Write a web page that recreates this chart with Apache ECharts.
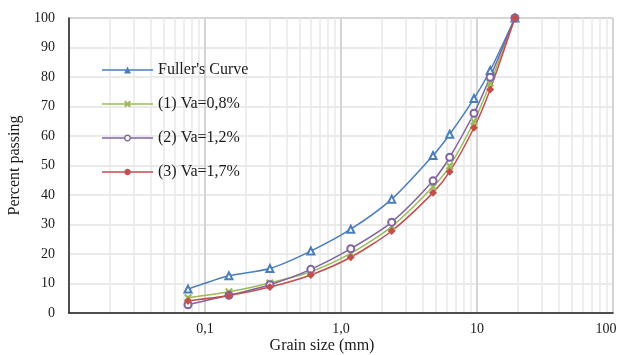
<!DOCTYPE html>
<html>
<head>
<meta charset="utf-8">
<script src="https://cdn.jsdelivr.net/npm/echarts@6/dist/echarts.min.js"></script>
<style>html,body{margin:0;padding:0;background:#fff;}#c{width:619px;height:355px;}</style>
</head>
<body>
<div id="c"></div>
<script>
const sizes = [0.075, 0.15, 0.3, 0.6, 1.18, 2.36, 4.75, 6.3, 9.5, 12.5, 19];
const fuller = [8.1, 12.6, 15.1, 21.0, 28.4, 38.6, 53.4, 60.6, 72.7, 82.2, 100];
const va08 = [5.2, 7.2, 10.2, 14.0, 20.2, 29.3, 42.8, 49.8, 64.9, 77.9, 100];
const va12 = [2.8, 6.0, 9.6, 14.8, 21.8, 30.8, 44.8, 52.8, 67.7, 79.9, 100];
const va17 = [4.1, 5.9, 8.8, 12.9, 18.9, 27.8, 40.8, 47.9, 62.8, 75.8, 100];
const seriesNames = ["Fuller's Curve", "(1) Va=0,8%", "(2) Va=1,2%", "(3) Va=1,7%"];
const xTickLabels = {"0.01": "", "0.1": "0,1", "1": "1,0", "10": "10", "100": "{m|100}"};
const minorX = [];
[0.01, 0.1, 1, 10].forEach(d => { for (let k = 2; k <= 9; k++) minorX.push(+(d * k).toPrecision(3)); });

const font = "'Liberation Serif', 'Times New Roman', serif";
const pair = arr => sizes.map((s, i) => [s, arr[i]]);
const xPath = 'path://M2,0L5,3L8,0L10,2L7,5L10,8L8,10L5,7L2,10L0,8L3,5L0,2Z';

// legend icons (51 x 7 box): line + marker
const lineFull = 'M0,2.8L51,2.8L51,4.2L0,4.2Z';
const lineSplit = 'M0,2.8L22.6,2.8L22.6,4.2L0,4.2Z M28.4,2.8L51,2.8L51,4.2L28.4,4.2Z';
function ring(cx, cy, r, ccw) {
  const pts = [];
  for (let i = 0; i < 16; i++) { const a = (ccw ? -1 : 1) * i * Math.PI / 8; pts.push((cx + r * Math.cos(a)).toFixed(2) + ',' + (cy + r * Math.sin(a)).toFixed(2)); }
  return 'M' + pts.join('L') + 'Z';
}
const legendIcons = [
  'path://' + lineFull + ' M22,7L25.5,0L29,7Z',
  'path://' + lineFull + ' M23.4,0L25.5,2.1L27.6,0L29,1.4L26.9,3.5L29,5.6L27.6,7L25.5,4.9L23.4,7L22,5.6L24.1,3.5L22,1.4Z',
  'path://' + lineSplit + ' ' + ring(25.5, 3.5, 3.5, false) + ' ' + ring(25.5, 3.5, 2.1, true),
  'path://' + lineFull + ' ' + ring(25.5, 3.5, 3.2, false)
];

const chart = echarts.init(document.getElementById('c'), null, {renderer: 'canvas'});
chart.setOption({
  animation: false,
  backgroundColor: '#fff',
  textStyle: {fontFamily: font},
  grid: {left: 69, right: 6, top: 18, bottom: 42, show: true, borderColor: '#595959', borderWidth: 1,
         containLabel: false, outerBoundsMode: 'none'},
  title: {
    text: 'Grain size (mm)', left: 322, top: 338, textAlign: 'center', padding: 0,
    textStyle: {fontFamily: font, fontSize: 16, fontWeight: 'normal', color: '#1a1a1a'}
  },
  legend: {
    orient: 'vertical', left: 97, top: 57, itemWidth: 51, itemHeight: 7, itemGap: 18,
    data: seriesNames.map((n, i) => ({name: n, icon: legendIcons[i]})),
    itemStyle: {borderWidth: 0},
    textStyle: {fontFamily: font, fontSize: 16, color: '#1a1a1a'}
  },
  xAxis: {
    type: 'log', logBase: 10, min: 0.01, max: 100,
    axisLine: {show: true, lineStyle: {color: '#222', width: 1.5}},
    axisTick: {show: false},
    axisLabel: {
      fontFamily: font, fontSize: 14, color: '#1a1a1a', margin: 9, showMaxLabel: true,
      rich: {m: {fontFamily: font, fontSize: 14, color: '#1a1a1a', padding: [0, 14, 0, 0]}},
      formatter: v => { const k = String(+v.toPrecision(3)); return k in xTickLabels ? xTickLabels[k] : ''; }
    },
    splitLine: {show: true, lineStyle: {color: '#d4d4d4', width: 2}}
  },
  yAxis: {
    type: 'value', min: 0, max: 100, interval: 10,
    name: 'Percent passing', nameLocation: 'middle', nameGap: 41, nameRotate: 90,
    nameTextStyle: {fontFamily: font, fontSize: 16, color: '#1a1a1a'},
    axisLine: {show: true, lineStyle: {color: '#222', width: 1.5}},
    axisTick: {show: false},
    axisLabel: {fontFamily: font, fontSize: 14, color: '#1a1a1a', margin: 14},
    splitLine: {show: true, lineStyle: {color: '#e3e3e3', width: 1.5}}
  },
  series: [
    {
      type: 'line', name: '_minor', data: [], silent: true, z: 0,
      markLine: {
        silent: true, symbol: 'none', label: {show: false}, z: 0,
        lineStyle: {color: '#e8e8e8', width: 1.5, type: 'solid'},
        data: minorX.map(v => ({xAxis: v}))
      }
    },
    {
      name: seriesNames[0], type: 'line', data: pair(fuller), smooth: 0.25,
      symbol: 'emptyTriangle', symbolSize: 7,
      lineStyle: {color: '#4a7ebb', width: 1.5, type: 'solid'},
      itemStyle: {color: '#4a7ebb', borderColor: '#4a7ebb', borderWidth: 1.5}
    },
    {
      name: seriesNames[1], type: 'line', data: pair(va08), smooth: 0.25,
      symbol: xPath, symbolSize: 8,
      lineStyle: {color: '#9bbb59', width: 1.5, type: 'solid'},
      itemStyle: {color: '#9bbb59'}
    },
    {
      name: seriesNames[2], type: 'line', data: pair(va12), smooth: 0.25,
      symbol: 'emptyCircle', symbolSize: 7,
      lineStyle: {color: '#8064a2', width: 1.5, type: 'solid'},
      itemStyle: {color: '#8064a2', borderColor: '#8064a2', borderWidth: 1.5}
    },
    {
      name: seriesNames[3], type: 'line', data: pair(va17), smooth: 0.25,
      symbol: 'diamond', symbolSize: 8,
      lineStyle: {color: '#c0504d', width: 1.5, type: 'solid'},
      itemStyle: {color: '#c0504d'}
    }
  ]
});
</script>
</body>
</html>
